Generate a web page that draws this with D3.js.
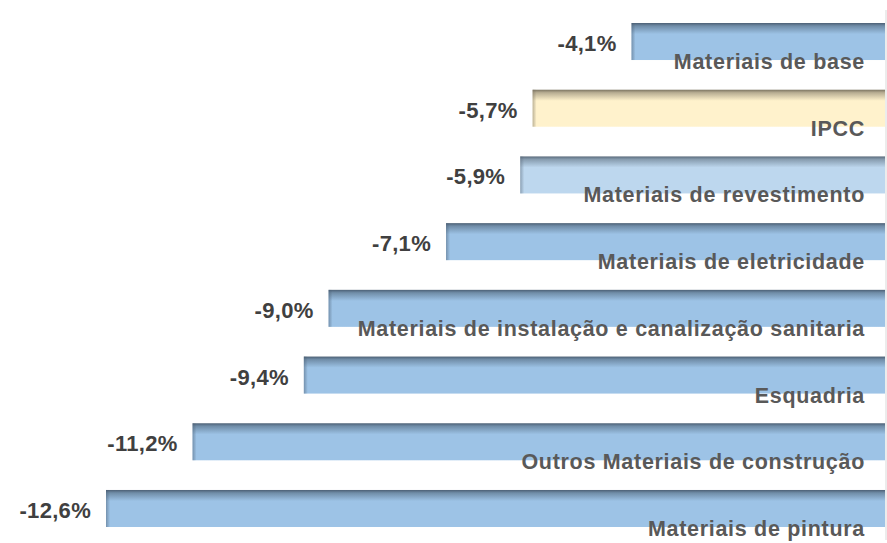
<!DOCTYPE html>
<html><head><meta charset="utf-8">
<script src="https://cdn.jsdelivr.net/npm/d3@7"></script>
<style>body{margin:0;background:#fff}svg{display:block}</style>
</head><body>
<svg id="c" width="887" height="543"></svg>
<script>
const categories = ["Materiais de base","IPCC","Materiais de revestimento","Materiais de eletricidade","Materiais de instalação e canalização sanitaria","Esquadria","Outros Materiais de construção","Materiais de pintura"];
const values = [-4.1,-5.7,-5.9,-7.1,-9.0,-9.4,-11.2,-12.6];
const valueLabels = ["-4,1%","-5,7%","-5,9%","-7,1%","-9,0%","-9,4%","-11,2%","-12,6%"];
const colorKeys = ["blue","ipcc","light","blue","blue","blue","blue","blue"];

const svg = d3.select("#c");
const x = d3.scaleLinear().domain([-12.6,0]).range([106,885]);
const y = d3.scaleBand().domain(categories).range([23,527]).paddingInner(0.445).paddingOuter(0);

const pal = {
  blue:{top:"#4c6075", base:"#9dc3e6"},
  ipcc:{top:"#7c7462", base:"#fff2cc"},
  light:{top:"#5b6b7c", base:"#bdd7ee"}
};
const defs = svg.append("defs");
Object.entries(pal).forEach(([k,c])=>{
  const g = defs.append("linearGradient").attr("id","g-"+k).attr("x1",0).attr("y1",0).attr("x2",0).attr("y2",1);
  g.append("stop").attr("offset","0%").attr("stop-color",c.top);
  g.append("stop").attr("offset","8%").attr("stop-color",d3.interpolateRgb(c.top,c.base)(0.45));
  g.append("stop").attr("offset","30%").attr("stop-color",c.base);
  g.append("stop").attr("offset","100%").attr("stop-color",c.base);
  const h = defs.append("linearGradient").attr("id","h-"+k).attr("x1",0).attr("y1",0).attr("x2",1).attr("y2",0);
  h.append("stop").attr("offset","0%").attr("stop-color",c.top).attr("stop-opacity",0.5);
  h.append("stop").attr("offset","100%").attr("stop-color",c.top).attr("stop-opacity",0);
});

const bh = y.bandwidth();
const rows = svg.selectAll("g.row").data(categories).join("g").attr("class","row");
rows.append("rect")
  .attr("x",(d,i)=>x(values[i])).attr("y",d=>y(d))
  .attr("width",(d,i)=>x(0)-x(values[i])).attr("height",bh)
  .attr("fill",(d,i)=>`url(#g-${colorKeys[i]})`);
rows.append("rect")
  .attr("x",(d,i)=>x(values[i])).attr("y",d=>y(d))
  .attr("width",4).attr("height",bh)
  .attr("fill",(d,i)=>`url(#h-${colorKeys[i]})`);

svg.append("line").attr("x1",886).attr("x2",886).attr("y1",10).attr("y2",540)
  .attr("stroke","#d9d9d9").attr("stroke-width",1);

const font = "'Liberation Sans', Arial, sans-serif";
rows.append("text")
  .attr("x",(d,i)=>x(values[i])-15).attr("y",d=>y(d)+28)
  .attr("text-anchor","end")
  .style("font-family",font).style("letter-spacing","0.3px")
  .style("font-weight","bold").style("font-size","22px").attr("fill","#404040")
  .text((d,i)=>valueLabels[i]);

rows.append("text")
  .attr("x",865).attr("y",d=>y(d)+46)
  .attr("text-anchor","end")
  .style("font-family",font).style("letter-spacing","0.7px")
  .style("font-weight","bold").style("font-size","21.5px").attr("fill","#595959")
  .text(d=>d);
</script>
</body></html>
